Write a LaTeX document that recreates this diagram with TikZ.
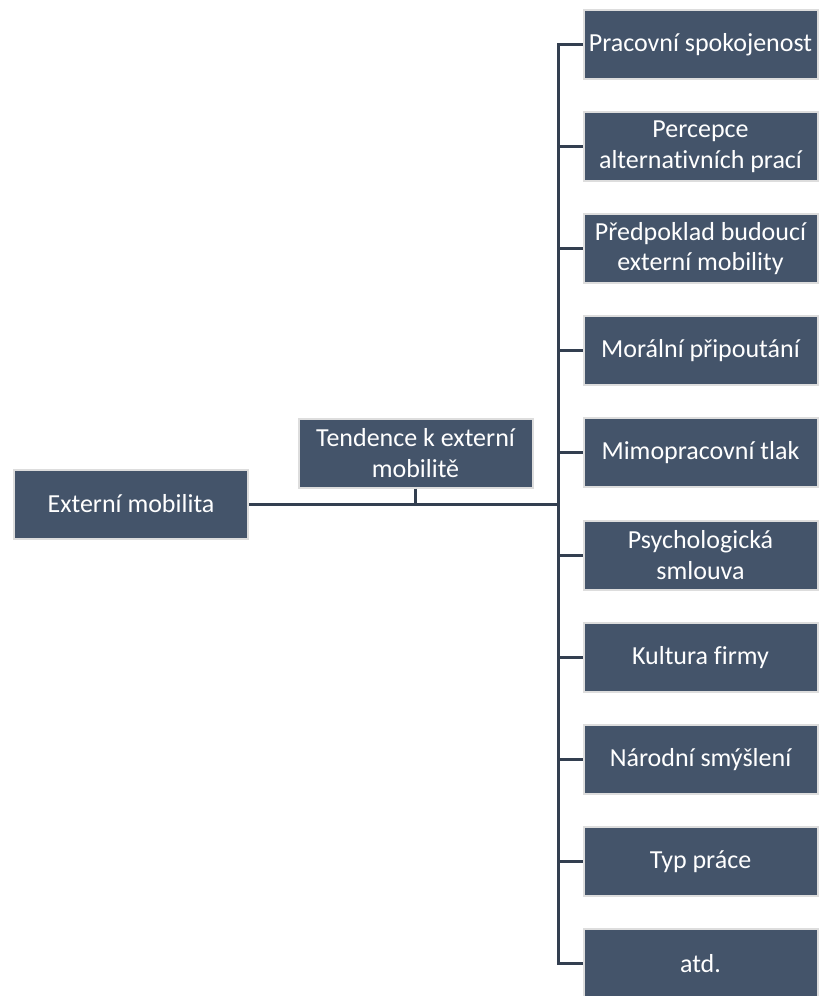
\documentclass[tikz,border=0pt]{standalone}
\usepackage{fontspec}
\setmainfont[Ligatures=NoCommon]{Carlito}
\definecolor{boxfill}{HTML}{44546A}
\definecolor{boxrim}{HTML}{DDDDDD}
\definecolor{wire}{HTML}{333F50}
\begin{document}
\begin{tikzpicture}[x=1pt,y=-1pt,
  card/.style={draw=boxrim, line width=2pt, fill=boxfill, text=white,
    minimum width=234pt, minimum height=69pt, inner sep=0pt,
    align=center, font=\fontsize{26}{30.5}\selectfont},
  wirepath/.style={draw=wire, line width=3pt}]
\useasboundingbox (0,0) rectangle (819,996);

% left part of the tree
\node[card] (ext)  at (131,504) {Externí mobilita};
\node[card] (tend) at (415.5,453) {Tendence k externí\\mobilitě};
\coordinate (hub) at (558,504);

% factor boxes
\foreach \name/\txt [count=\i from 0] in {
  f1/{Pracovní spokojenost},
  f2/{Percepce\\alternativních prací},
  f3/{Předpoklad budoucí\\externí mobility},
  f4/{Morální připoutání},
  f5/{Mimopracovní tlak},
  f6/{Psychologická\\smlouva},
  f7/{Kultura firmy},
  f8/{Národní smýšlení},
  f9/{Typ práce},
  f10/{atd.}}
  \node[card] (\name) at (700.5,44.5+102.1*\i) {\txt};

% connectors
\draw[wirepath] (ext.east) -- (hub);
\draw[wirepath] (tend.south) -- (tend.south |- hub);
\draw[wirepath] (f1.west) -| (hub) |- (f10.west);
\foreach \name in {f2,f3,f4,f5,f6,f7,f8,f9}
  \draw[wirepath] (\name.west) -- (\name.west -| hub);
\end{tikzpicture}
\end{document}
